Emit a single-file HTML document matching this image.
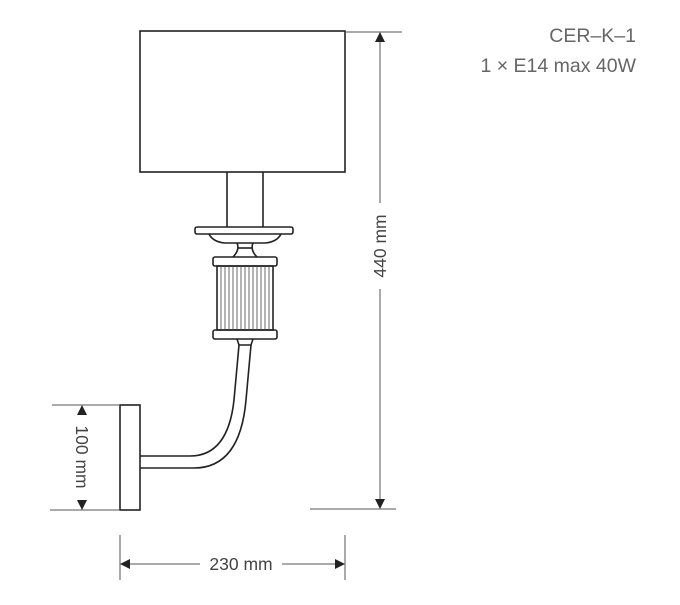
<!DOCTYPE html>
<html><head><style>
html,body{margin:0;padding:0;background:#fff;}
</style></head><body>
<svg width="680" height="600" viewBox="0 0 680 600" xmlns="http://www.w3.org/2000/svg" font-family="Liberation Sans, sans-serif">
<g fill="none" stroke="#222" stroke-width="1.6">
<rect x="140" y="31" width="205" height="141"/>
<line x1="227" y1="172" x2="227" y2="227"/>
<line x1="263" y1="172" x2="263" y2="227"/>
<rect x="195" y="227" width="98" height="7" rx="2"/>
<path d="M209 234 Q213 242 225 243 L265 243 Q277 242 281 234"/>
<path d="M237 243 Q240 250 233 257 M253 243 Q250 250 257 257"/>
<line x1="237" y1="248" x2="253" y2="248"/>
<rect x="213" y="257" width="64" height="9" rx="2"/>
<rect x="213" y="330" width="64" height="9" rx="2"/>
<rect x="217" y="266" width="56" height="64"/>
<path d="M237 339 L239 345 L251 345 L253 339"/>
</g>
<g stroke="#444" stroke-width="0.8">
<line x1="221" y1="266" x2="221" y2="330"/><line x1="225" y1="266" x2="225" y2="330"/>
<line x1="229" y1="266" x2="229" y2="330"/><line x1="233" y1="266" x2="233" y2="330"/>
<line x1="237" y1="266" x2="237" y2="330"/><line x1="241" y1="266" x2="241" y2="330"/>
<line x1="245" y1="266" x2="245" y2="330"/><line x1="249" y1="266" x2="249" y2="330"/>
<line x1="253" y1="266" x2="253" y2="330"/><line x1="257" y1="266" x2="257" y2="330"/>
<line x1="261" y1="266" x2="261" y2="330"/><line x1="265" y1="266" x2="265" y2="330"/>
<line x1="269" y1="266" x2="269" y2="330"/>
</g>
<g fill="none" stroke="#222" stroke-width="1.6">
<path d="M140 456 L190 456 Q228 456 234 400 L239 345"/>
<path d="M140 468 L194 468 Q240 468 246 400 L251 345"/>
<rect x="120" y="405" width="20" height="105"/>
</g>
<g stroke="#555" stroke-width="1" fill="none">
<line x1="345" y1="32" x2="402" y2="32"/>
<line x1="310" y1="509" x2="396" y2="509"/>
<line x1="380" y1="40" x2="380" y2="203"/>
<line x1="380" y1="289" x2="380" y2="501"/>
<line x1="52" y1="405" x2="120" y2="405"/>
<line x1="50" y1="510" x2="120" y2="510"/>
<line x1="120" y1="535" x2="120" y2="580"/>
<line x1="345" y1="535" x2="345" y2="580"/>
<line x1="128" y1="564" x2="200" y2="564"/>
<line x1="282" y1="564" x2="337" y2="564"/>
</g>
<g fill="#222">
<polygon points="380,32 375,42 385,42"/>
<polygon points="380,509 375,499 385,499"/>
<polygon points="82,405 77,415 87,415"/>
<polygon points="82,510 77,500 87,500"/>
<polygon points="120,564 130,559 130,569"/>
<polygon points="345,564 335,559 335,569"/>
</g>
<g fill="#444" font-size="17.5">
<text transform="translate(386,246) rotate(-90)" text-anchor="middle">440 mm</text>
<text transform="translate(76,457) rotate(90)" text-anchor="middle">100 mm</text>
<text x="241" y="570" text-anchor="middle">230 mm</text>
</g>
<g fill="#666" font-size="19.5" text-anchor="end">
<text x="636" y="42">CER–K–1</text>
<text x="636" y="72">1 × E14 max 40W</text>
</g>
</svg>
</body></html>
